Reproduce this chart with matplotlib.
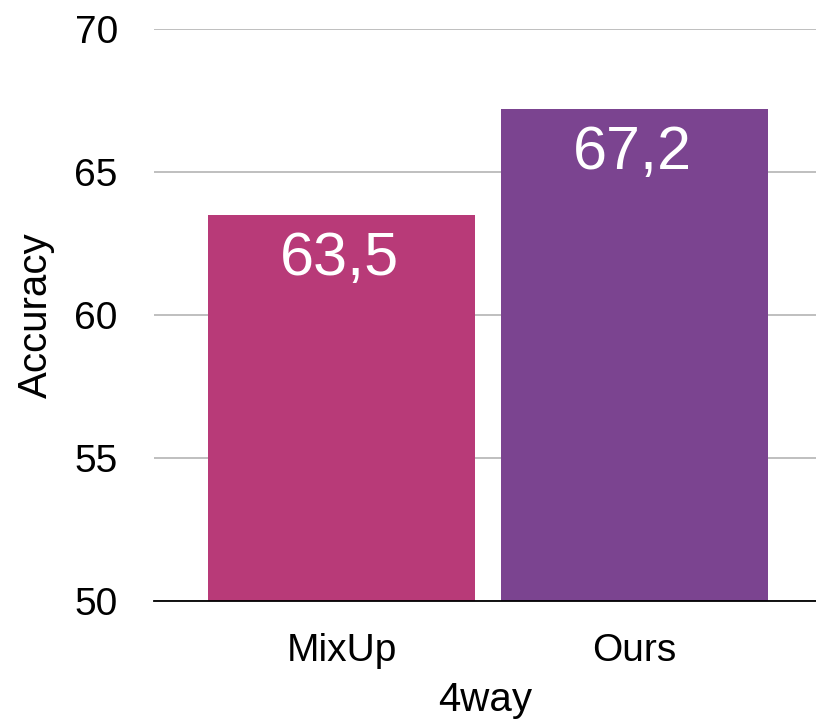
import matplotlib.pyplot as plt

plt.rcParams['font.family'] = ['Liberation Sans', 'DejaVu Sans']

# Data
methods = ['MixUp', 'Ours']
accuracy = [63.5, 67.2]
bar_colors = ['#B83A78', '#7B4490']
yticks = [50, 55, 60, 65, 70]

fig = plt.figure(figsize=(8.16, 7.24), dpi=100)
ax = fig.add_axes([0.1887, 0.170, 0.8113, 0.7906])

x = range(len(methods))
bars = ax.bar(x, accuracy, width=0.91, color=bar_colors, zorder=3)

# Value labels inside the top of each bar (comma decimal separator)
for rect, val in zip(bars, accuracy):
    ax.annotate(f'{val:.1f}'.replace('.', ','),
                xy=(rect.get_x() + rect.get_width() / 2, val),
                xytext=(-2, -45), textcoords='offset pixels',
                ha='center', va='center', color='white', fontsize=44, zorder=4)

ax.set_ylim(50, 70)
ax.set_xlim(-0.64, 1.62)
ax.set_yticks(yticks)
ax.set_xticks(list(x))
ax.set_xticklabels(methods)
ax.tick_params(axis='both', length=0, labelsize=28)
ax.tick_params(axis='x', pad=23)
ax.tick_params(axis='y', pad=26)

ax.yaxis.grid(True, color='#b4b4b4', linewidth=1.2, zorder=0)
ax.set_axisbelow(True)
for side in ['left', 'right', 'top']:
    ax.spines[side].set_visible(False)
ax.spines['bottom'].set_color('black')
ax.spines['bottom'].set_linewidth(1.3)
ax.spines['bottom'].set_zorder(5)

ax.set_ylabel('Accuracy', fontsize=29, labelpad=14)
ax.set_xlabel('4way', fontsize=29, labelpad=9)

fig.savefig('out.png', dpi=100)
